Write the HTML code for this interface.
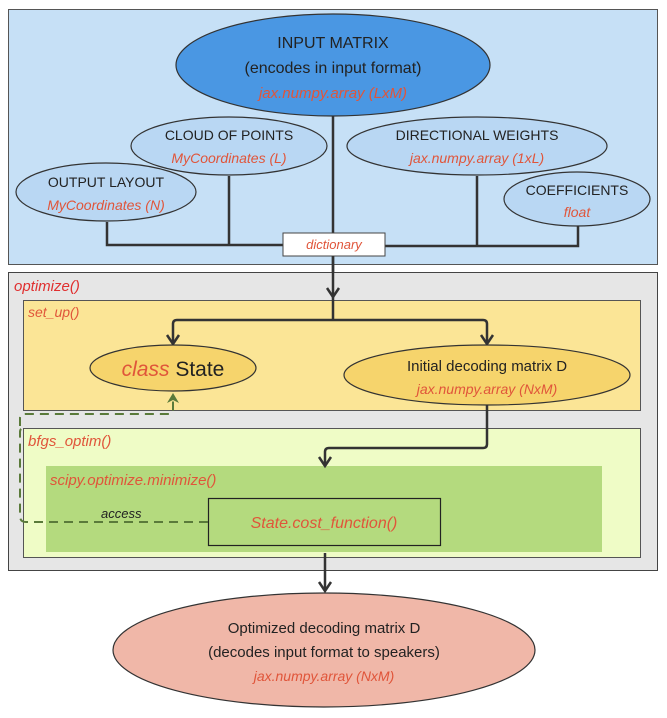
<!DOCTYPE html>
<html><head><meta charset="utf-8"><style>
html,body{margin:0;padding:0;background:#fff;}
svg{display:block;}
text{font-family:"Liberation Sans",sans-serif;}
.r{fill:#e0553a;font-style:italic;}
.d{fill:#222;}
</style></head><body>
<svg width="667" height="718" viewBox="0 0 667 718" xmlns="http://www.w3.org/2000/svg">
<!-- top block -->
<rect x="8.5" y="9.5" width="649" height="255" fill="#c6e0f6" stroke="#555" stroke-width="1"/>
<g stroke="#333" stroke-width="2.5" fill="none">
<line x1="333" y1="116" x2="333" y2="290"/>
<path d="M229,176 V245"/>
<path d="M107,222 V245 H283"/>
<path d="M477,176 V245"/>
<path d="M578,226 V246 H385"/>
</g>
<ellipse cx="333" cy="65" rx="157" ry="51" fill="#4a97e3" stroke="#333" stroke-width="1.2"/>
<text x="333" y="48" text-anchor="middle" font-size="16" class="d">INPUT MATRIX</text>
<text x="333" y="73" text-anchor="middle" font-size="16" class="d">(encodes in input format)</text>
<text x="333" y="98" text-anchor="middle" font-size="15" class="r">jax.numpy.array (LxM)</text>
<ellipse cx="229" cy="146" rx="98" ry="29" fill="#b9d7f3" stroke="#333" stroke-width="1.2"/>
<text x="229" y="140" text-anchor="middle" font-size="14" class="d">CLOUD OF POINTS</text>
<text x="229" y="163" text-anchor="middle" font-size="14" class="r">MyCoordinates (L)</text>
<ellipse cx="477" cy="146" rx="130" ry="29" fill="#b9d7f3" stroke="#333" stroke-width="1.2"/>
<text x="477" y="140" text-anchor="middle" font-size="14" class="d">DIRECTIONAL WEIGHTS</text>
<text x="477" y="163" text-anchor="middle" font-size="14" class="r">jax.numpy.array (1xL)</text>
<ellipse cx="106" cy="192" rx="90" ry="29" fill="#b9d7f3" stroke="#333" stroke-width="1.2"/>
<text x="106" y="187" text-anchor="middle" font-size="14" class="d">OUTPUT LAYOUT</text>
<text x="106" y="210" text-anchor="middle" font-size="14" class="r">MyCoordinates (N)</text>
<ellipse cx="577" cy="199" rx="73" ry="27" fill="#b9d7f3" stroke="#333" stroke-width="1.2"/>
<text x="577" y="195" text-anchor="middle" font-size="14" class="d">COEFFICIENTS</text>
<text x="577" y="217" text-anchor="middle" font-size="14" class="r">float</text>
<rect x="283" y="233" width="102" height="23" fill="#fff" stroke="#444" stroke-width="1"/>
<text x="334" y="249" text-anchor="middle" font-size="13" class="r">dictionary</text>
<!-- optimize -->
<rect x="8.5" y="272.5" width="649" height="298" fill="#e6e6e6" stroke="#444" stroke-width="1"/>
<text x="14" y="291" font-size="15" fill="#e03030" font-style="italic">optimize()</text>
<line x1="333" y1="256" x2="333" y2="298" stroke="#333" stroke-width="2.5"/>
<rect x="23.5" y="300.5" width="617" height="110" fill="#fbe596" stroke="#555" stroke-width="1"/>
<text x="28" y="317" font-size="14" class="r">set_up()</text>
<g stroke="#333" stroke-width="2.5" fill="none">
<line x1="333" y1="298" x2="333" y2="320"/>
<path d="M333,320 H177 Q173,320 173,324 V344"/>
<path d="M333,320 H483 Q487,320 487,324 V344"/>
<path d="M327,288 L333,297 L339,288"/>
<path d="M167,335 L173,344 L179,335"/>
<path d="M481,335 L487,344 L493,335"/>
</g>
<ellipse cx="173" cy="368" rx="83" ry="23" fill="#f6d46c" stroke="#333" stroke-width="1.2"/>
<text x="173" y="376" text-anchor="middle" font-size="21"><tspan class="r" font-style="italic">class</tspan><tspan class="d"> State</tspan></text>
<ellipse cx="487" cy="375" rx="143" ry="30" fill="#f6d46c" stroke="#333" stroke-width="1.2"/>
<text x="487" y="371" text-anchor="middle" font-size="15" class="d">Initial decoding matrix D</text>
<text x="487" y="394" text-anchor="middle" font-size="14" class="r">jax.numpy.array (NxM)</text>
<!-- bfgs -->
<rect x="23.5" y="428.5" width="617" height="129" fill="#effcc6" stroke="#555" stroke-width="1"/>
<text x="28" y="446" font-size="15" class="r">bfgs_optim()</text>
<rect x="46" y="466" width="556" height="86" fill="#b4da7e"/>
<text x="50" y="485" font-size="15" class="r">scipy.optimize.minimize()</text>
<rect x="208.5" y="498.5" width="232" height="47" fill="#b4da7e" stroke="#222" stroke-width="1.2"/>
<text x="324" y="528" text-anchor="middle" font-size="16" class="r">State.cost_function()</text>
<g stroke="#333" stroke-width="2.5" fill="none">
<path d="M487,405 V444 Q487,448 483,448 H329 Q325,448 325,452 V466"/>
<path d="M319,457 L325,466 L331,457"/>
</g>
<path d="M208,522 H26 Q20,522 20,516 V432 Q20,428 24,428" stroke="#5a7a3a" stroke-width="2" fill="none" stroke-dasharray="9,6"/>
<path d="M20,426 V418 Q20,414 26,414 H169 Q173,414 173,410 V398" stroke="#5a7a3a" stroke-width="2" fill="none" stroke-dasharray="9,6"/>
<path d="M167,403 L173,393 L179,403 L173,400Z" fill="#5a7a3a"/>
<text x="101" y="518" font-size="13" font-style="italic" fill="#222" font-family="Liberation Serif, serif">access</text>
<g stroke="#333" stroke-width="2.5" fill="none">
<line x1="325" y1="553" x2="325" y2="590"/>
<path d="M319,582 L325,591 L331,582"/>
</g>
<!-- bottom -->
<ellipse cx="324" cy="650" rx="211" ry="57" fill="#f0b7a8" stroke="#333" stroke-width="1.2"/>
<text x="324" y="633" text-anchor="middle" font-size="15" class="d">Optimized decoding matrix D</text>
<text x="324" y="657" text-anchor="middle" font-size="15" class="d">(decodes input format to speakers)</text>
<text x="324" y="681" text-anchor="middle" font-size="14" class="r">jax.numpy.array (NxM)</text>
</svg>
</body></html>
